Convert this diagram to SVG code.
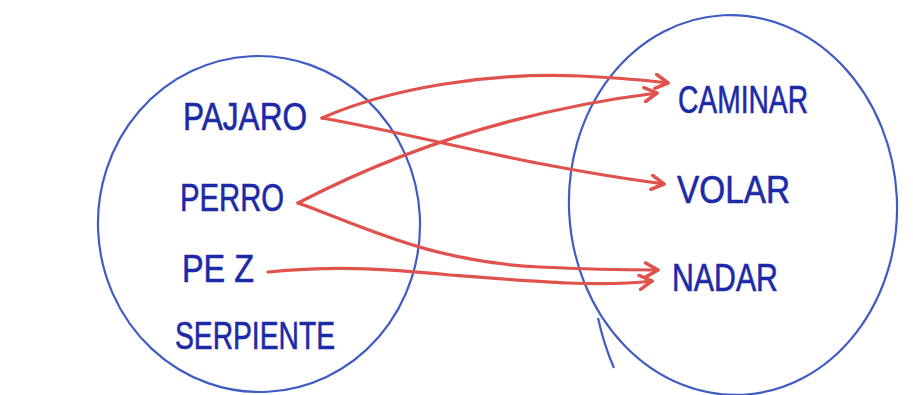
<svg xmlns="http://www.w3.org/2000/svg" width="913" height="395" viewBox="0 0 913 395">
<style>
.set{fill:none;stroke:#3f5cc4;stroke-width:2.2}
.lbl{font-family:"Liberation Sans",Arial,sans-serif;font-size:38px;fill:#1c2aa8;stroke:#1c2aa8;stroke-width:0.6}
.arr{fill:none;stroke:#e0524c;stroke-width:3.2;stroke-linecap:round;marker-end:url(#ah)}
</style>
<defs>
<marker id="ah" viewBox="0 0 10 10" refX="8" refY="5" markerWidth="5.5" markerHeight="5.5" orient="auto" markerUnits="strokeWidth">
<path d="M1,1 L8,5 L1,9" fill="none" stroke="#e0524c" stroke-width="2" stroke-linecap="round" stroke-linejoin="round"/>
</marker>
</defs>
<rect width="913" height="395" fill="#ffffff"/>
<g id="domain">
<ellipse class="set" cx="259" cy="224" rx="161" ry="168" transform="rotate(-3 259 224)"/>
<text class="lbl" x="183" y="130" textLength="124" lengthAdjust="spacingAndGlyphs">PAJARO</text>
<text class="lbl" x="180" y="211" textLength="104" lengthAdjust="spacingAndGlyphs">PERRO</text>
<text class="lbl" x="182" y="282" textLength="72" lengthAdjust="spacingAndGlyphs">PE Z</text>
<text class="lbl" x="175" y="349" textLength="160" lengthAdjust="spacingAndGlyphs">SERPIENTE</text>
</g>
<g id="codomain">
<ellipse class="set" cx="733" cy="205" rx="164" ry="190" transform="rotate(-3 733 205)"/>
<path class="set" d="M598,318 Q604,345 614,368"/>
<text class="lbl" x="678" y="113" textLength="130" lengthAdjust="spacingAndGlyphs">CAMINAR</text>
<text class="lbl" x="677" y="203" textLength="113" lengthAdjust="spacingAndGlyphs">VOLAR</text>
<text class="lbl" x="672" y="291" textLength="106" lengthAdjust="spacingAndGlyphs">NADAR</text>
</g>
<g id="connectors">
<path class="arr" d="M322,118 C390,88 490,72 580,76 C620,78 645,80 668,83"/>
<path class="arr" d="M322,118 C420,135 520,165 664,184"/>
<path class="arr" d="M298,203 C400,150 520,110 657,93"/>
<path class="arr" d="M298,203 C360,225 430,262 540,267 C600,270 630,270 658,270"/>
<path class="arr" d="M268,272 C330,266 380,268 450,275 C540,282 600,287 652,281"/>
</g>
</svg>
